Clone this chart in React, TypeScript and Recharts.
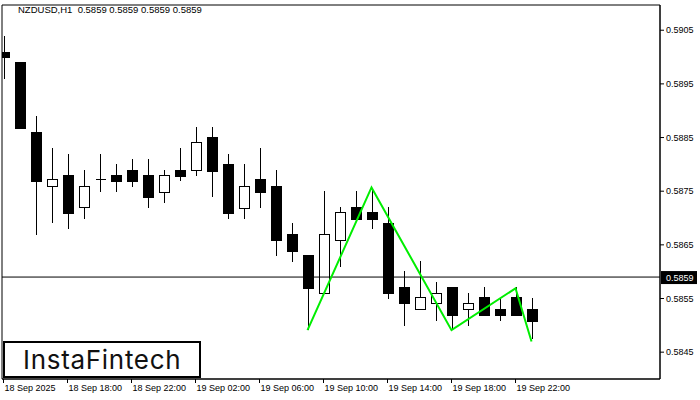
import { Bar, ComposedChart, Line, ReferenceArea, ReferenceLine, XAxis, YAxis } from "recharts"

const opens = [0.59009, 0.5899, 0.5886, 0.58758, 0.5878, 0.5872, 0.58771, 0.5878, 0.58789, 0.5878, 0.58748, 0.58789, 0.58789, 0.58851, 0.588, 0.58718, 0.58771, 0.58759, 0.5867, 0.58631, 0.5856, 0.58659, 0.5872, 0.58711, 0.5869, 0.58571, 0.5853, 0.58541, 0.58571, 0.5853, 0.58551, 0.5853, 0.58551, 0.5853]
const highs = [0.59039, 0.5899, 0.5889, 0.5883, 0.58819, 0.58789, 0.58819, 0.588, 0.5881, 0.5881, 0.58789, 0.5883, 0.58869, 0.58869, 0.58819, 0.588, 0.5883, 0.58789, 0.5869, 0.58631, 0.5875, 0.5872, 0.5875, 0.58756, 0.5872, 0.58601, 0.5862, 0.58581, 0.58571, 0.5856, 0.58571, 0.58551, 0.58571, 0.58551]
const lows = [0.58959, 0.58867, 0.58668, 0.5869, 0.58679, 0.58698, 0.58748, 0.58748, 0.58758, 0.58718, 0.58728, 0.58769, 0.58778, 0.58739, 0.58698, 0.58698, 0.58718, 0.58629, 0.58618, 0.58491, 0.5856, 0.58608, 0.58698, 0.58679, 0.58549, 0.58499, 0.5853, 0.58508, 0.58493, 0.58499, 0.58519, 0.58508, 0.58519, 0.58474]
const closes = [0.59, 0.58867, 0.58769, 0.58771, 0.58709, 0.58759, 0.58771, 0.58769, 0.58769, 0.58739, 0.5878, 0.58778, 0.5884, 0.58787, 0.58709, 0.58759, 0.58748, 0.58659, 0.58638, 0.58569, 0.5867, 0.58711, 0.58698, 0.58698, 0.5856, 0.58541, 0.58551, 0.5856, 0.58519, 0.58541, 0.58519, 0.58519, 0.58519, 0.58508]

// green pattern line (bar index -> price)
const patternIdx = [19, 23, 28, 32, 33]
const patternVals = [0.58491, 0.58757, 0.58491, 0.58569, 0.5847]

const tickIdx = [0, 4, 8, 12, 16, 20, 24, 28, 32]
const tickLabels = ["18 Sep 2025", "18 Sep 18:00", "18 Sep 22:00", "19 Sep 02:00", "19 Sep 06:00", "19 Sep 10:00", "19 Sep 14:00", "19 Sep 18:00", "19 Sep 22:00"]
const priceTicks = [0.5845, 0.5855, 0.5865, 0.5875, 0.5885, 0.5895, 0.5905]
const lastPrice = 0.5859

const data = opens.map((o, i) => {
  const k = patternIdx.indexOf(i)
  return {
    i,
    open: o,
    high: highs[i],
    low: lows[i],
    close: closes[i],
    range: [lows[i], highs[i]],
    pattern: k >= 0 ? patternVals[k] : null,
  }
})

const FONT = "'Liberation Sans', Arial, sans-serif"

function Candle(props: any) {
  const { x, y, width, height, payload } = props
  const { open, close, high, low } = payload
  const toY = (p: number) => y + ((high - p) / (high - low)) * height
  const cx = Math.round(x + width / 2) + 0.5
  const top = toY(Math.max(open, close))
  const bot = toY(Math.min(open, close))
  const bull = close > open
  const left = Math.round(x) + 0.5
  const w = Math.round(width) - 1
  return (
    <g shapeRendering="crispEdges">
      <line x1={cx} x2={cx} y1={y} y2={y + height} stroke="#000" strokeWidth={1} />
      {Math.abs(bot - top) < 1 ? (
        <line x1={left} x2={left + w} y1={top} y2={top} stroke="#000" strokeWidth={1} />
      ) : (
        <rect x={left} y={top} width={w} height={bot - top} fill={bull ? "#fff" : "#000"} stroke="#000" strokeWidth={1} />
      )}
    </g>
  )
}

function TimeTick(props: any) {
  const { x, y, payload } = props
  const k = tickIdx.indexOf(payload.value)
  return (
    <text x={x + 1} y={y + 6} textAnchor="start" fontSize={9} fontFamily={FONT} fill="#000">
      {tickLabels[k]}
    </text>
  )
}

function PriceLabel(props: any) {
  const vb = props.viewBox
  const x = vb.x + vb.width + 1
  return (
    <g>
      <rect x={x} y={vb.y - 6} width={36} height={13} fill="#000" />
      <text x={x + 5} y={vb.y + 4} fontSize={9} fontFamily={FONT} fill="#fff">
        0.5859
      </text>
    </g>
  )
}

export default function App() {
  return (
    <div style={{ position: "absolute", left: 0, top: 0, width: 700, height: 400, background: "#fff" }}>
      <ComposedChart width={700} height={400} data={data} margin={{ top: 5, right: 0, bottom: 0, left: 2 }}>
        <XAxis
          dataKey="i"
          type="number"
          domain={[-0.094, 41.03]}
          allowDataOverflow
          ticks={tickIdx}
          tick={<TimeTick />}
          tickSize={4}
          height={21}
          axisLine={{ stroke: "#000" }}
          tickLine={{ stroke: "#000" }}
          interval={0}
        />
        <YAxis
          orientation="right"
          type="number"
          domain={[0.584, 0.59097]}
          allowDataOverflow
          ticks={priceTicks}
          tickFormatter={(v) => v.toFixed(4)}
          tick={{ fontSize: 9, fontFamily: FONT, fill: "#000" }}
          tickSize={4}
          width={40}
          axisLine={{ stroke: "#000" }}
          tickLine={{ stroke: "#000" }}
        />
        <ReferenceArea x1={-0.094} x2={41.03} y1={0.584} y2={0.59097} fill="none" stroke="#000" strokeWidth={1} />
        <ReferenceLine y={lastPrice} stroke="#000" strokeWidth={1} label={<PriceLabel />} />
        <Bar dataKey="range" barSize={11} shape={<Candle />} isAnimationActive={false} />
        <Line dataKey="pattern" connectNulls stroke="#00ee00" strokeWidth={2} dot={false} isAnimationActive={false} />
      </ComposedChart>
      <div style={{ position: "absolute", left: 18, top: 4, fontSize: 9.5, fontFamily: FONT, color: "#000", whiteSpace: "pre" }}>
        NZDUSD,H1  0.5859 0.5859 0.5859 0.5859
      </div>
      <div
        style={{
          position: "absolute",
          left: 3,
          top: 341,
          width: 176,
          height: 33,
          border: "2px solid #000",
          background: "#fff",
          fontFamily: "Inter, sans-serif",
          fontWeight: 400,
          fontSize: 26,
          letterSpacing: 0.7,
          lineHeight: "33px",
          paddingLeft: 18,
          boxSizing: "content-box",
          color: "#111",
          whiteSpace: "nowrap",
        }}
      >
        InstaFintech
      </div>
    </div>
  )
}
